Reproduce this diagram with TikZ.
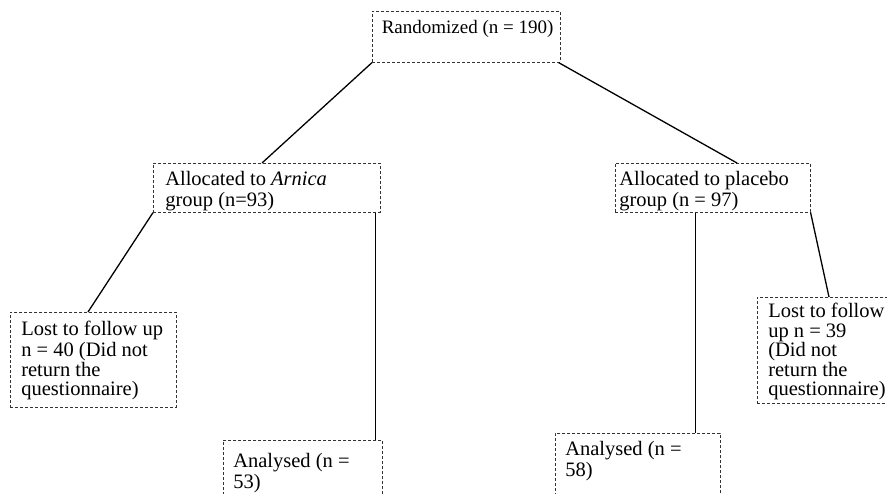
\documentclass[tikz,border=0pt]{standalone}
\usepackage{fontspec}
\setmainfont{Liberation Serif}
\usetikzlibrary{calc, positioning}
% text block inside a box: width, height, left pad, top pad, text
\newcommand{\stagetext}[5]{\parbox[t][#2pt][t]{#1pt}{\vspace*{#4pt}\raggedright\leftskip=#3pt\strut #5}}

\begin{document}
\begin{tikzpicture}[x=1pt, y=-1pt,
  stage/.style={draw=black!80, densely dashed, line width=0.6pt, anchor=north west,
                inner sep=0pt, font=\fontsize{20.5}{19.5}\selectfont},
  flow/.style={draw=black, line width=1.3pt},
]
\useasboundingbox (0,0) rectangle (887,494);

\node[stage, font=\fontsize{19}{19.5}\selectfont] (rand) at (372,11) {\stagetext{188}{51}{9.5}{8.5}{\mbox{Randomized (n = 190)}}};

\node[stage] (arnica) at (153,163) {\stagetext{227}{49}{12}{7.8}{Allocated to \textit{Arnica}\\group (n=93)}};
\node[stage] (placebo) at (615,163) {\stagetext{195}{49}{4}{7.8}{Allocated to placebo\\group (n = 97)}};

\node[stage] (lost1) at (10,312) {\stagetext{166}{95}{11}{8.8}{Lost to follow up\\n = 40 (Did not\\return the\\questionnaire)}};
\node[stage] (lost2) at (757,297) {\stagetext{150}{106}{11}{5.8}{Lost to follow\\up n = 39\\(Did not\\return the\\questionnaire)}};

\node[stage] (an1) at (223,440) {\stagetext{159}{80}{10}{12.8}{Analysed (n =\\53)}};
\node[stage] (an2) at (555,433) {\stagetext{165}{90}{10}{7.8}{Analysed (n =\\58)}};

% connectors
\draw[flow] (rand.south west) -- ([xshift=109pt]arnica.north west);
\draw[flow] ([xshift=-2pt]rand.south east) -- ([xshift=122pt]placebo.north west);
\draw[flow] (arnica.south west) -- ([xshift=78pt]lost1.north west);
\draw[flow] (placebo.south east) -- ([xshift=72pt]lost2.north west);
\coordinate (a1) at ([xshift=-7pt]an1.north east);
\coordinate (a2) at ([xshift=-25pt]an2.north east);
\draw[flow] (a1) -- (a1 |- arnica.south);
\draw[flow] (a2) -- (a2 |- placebo.south);
\end{tikzpicture}
\end{document}
